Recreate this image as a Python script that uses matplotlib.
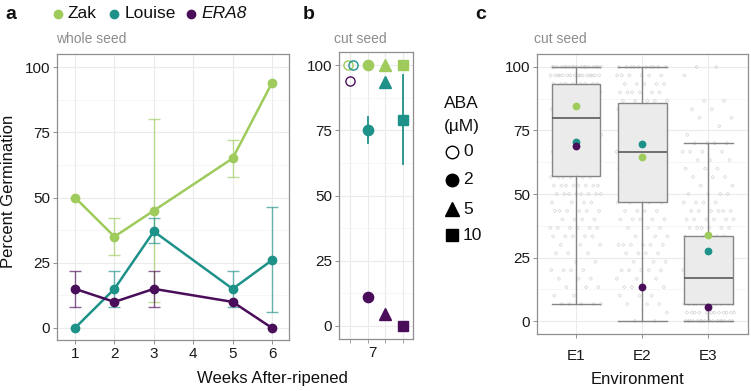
import matplotlib
matplotlib.use('Agg')
import matplotlib.pyplot as plt
import numpy as np

plt.rcParams['font.family'] = ['Liberation Sans', 'DejaVu Sans']

W, H = 751, 391

# ---------------- data ----------------
genotypes = ['Zak', 'Louise', 'ERA8']
colors = {'Zak': '#9ECB5C', 'Louise': '#1E9189', 'ERA8': '#4A0D5A'}

# panel a: whole seed
weeks = [1, 2, 3, 5, 6]
zak_mean = [50, 35, 45, 65, 94]
zak_lo = [50, 28, 10, 58, 94]
zak_hi = [50, 42, 80, 72, 94]
louise_mean = [0, 15, 37, 15, 26]
louise_lo = [0, 8, 32.5, 8, 6]
louise_hi = [0, 22, 42, 22, 46.5]
era8_mean = [15, 10, 15, 10, 0]
era8_lo = [8, 10, 8, 10, 0]
era8_hi = [22, 10, 22, 10, 0]

# panel b: cut seed, week 7, by ABA concentration
aba_levels = ['0', '2', '5', '10']
aba_markers = ['o', 'o', '^', 's']
b_zak = [100, 100, 100, 100]
b_louise = [100, 75, 93.5, 79]
b_louise_lo = [100, 70, 93.5, 62]
b_louise_hi = [100, 80, 93.5, 96]
b_era8 = [94, 11, 4.5, 0]

# panel c: environments
envs = ['E1', 'E2', 'E3']
box_whislo = [6.7, 0, 0]
box_q1 = [57, 46.8, 6.7]
box_med = [80, 66.5, 17]
box_q3 = [93.3, 85.8, 33.5]
box_whishi = [100, 100, 70]
c_zak = [84.6, 64.5, 34]
c_louise = [70.5, 69.8, 27.7]
c_era8 = [69, 13.4, 5.6]

# individual observations: counts per germination level (0, 3.3, ..., 100)
levels = [i * 10 / 3 for i in range(31)]
e1_counts = [0, 0, 5, 2, 3, 3, 4, 2, 3, 3, 5, 6, 4, 6, 4, 8, 8, 6, 4, 4, 4, 4, 4, 4, 4, 4, 4, 4, 8, 16, 18]
e2_counts = [2, 1, 3, 3, 4, 3, 5, 3, 4, 6, 3, 3, 5, 4, 4, 3, 3, 3, 3, 3, 3, 3, 3, 3, 3, 5, 5, 6, 5, 6, 10]
e3_counts = [16, 12, 12, 3, 3, 3, 3, 3, 3, 3, 4, 6, 6, 6, 4, 4, 2, 3, 3, 3, 4, 4, 1, 1, 2, 2, 2, 0, 0, 1, 2]

# ---------------- figure ----------------
fig = plt.figure(figsize=(W / 100, H / 100), dpi=100)


def add_ax(left, right, top, bottom):
    return fig.add_axes([left / W, 1 - bottom / H, (right - left) / W, (bottom - top) / H])


spine_col = '#8f8f8f'
grid_major = '#ebebeb'
grid_minor = '#f5f5f5'


def style(ax):
    for s in ax.spines.values():
        s.set_color(spine_col)
        s.set_linewidth(0.9)
    ax.tick_params(length=3, width=0.7, color=spine_col, labelsize=11, labelcolor='#1a1a1a', pad=2)
    ax.set_yticks([0, 25, 50, 75, 100])
    for y in [12.5, 37.5, 62.5, 87.5]:
        ax.axhline(y, color=grid_minor, lw=0.6, zorder=0)
    for y in [0, 25, 50, 75, 100]:
        ax.axhline(y, color=grid_major, lw=0.8, zorder=0)


# ----- panel a -----
axa = add_ax(57, 289, 54, 340)
style(axa)
axa.set_xlim(0.543, 6.43)
axa.set_ylim(-4.6, 105)
axa.set_xticks([1, 2, 3, 4, 5, 6])
for x in [1, 2, 3, 4, 5, 6]:
    axa.axvline(x, color=grid_major, lw=0.8, zorder=0)
series_a = [('Zak', zak_mean, zak_lo, zak_hi), ('Louise', louise_mean, louise_lo, louise_hi),
            ('ERA8', era8_mean, era8_lo, era8_hi)]
for name, m, lo, hi in series_a:
    m = np.array(m, float)
    yerr = [m - np.array(lo), np.array(hi) - m]
    has = (np.array(hi) - np.array(lo)) > 0
    wk = np.array(weeks)
    axa.errorbar(wk[has], m[has], yerr=[yerr[0][has], yerr[1][has]], fmt='none',
                 ecolor=colors[name], alpha=0.65, elinewidth=1.0, capsize=4.5, capthick=1.0, zorder=2)
for name, m, lo, hi in series_a:
    axa.plot(weeks, m, '-o', color=colors[name], lw=1.8, ms=6, zorder=3)

# ----- panel b -----
axb = add_ax(339, 413, 52, 339)
style(axb)
axb.set_xlim(-0.62, 3.56)
axb.set_ylim(-5, 105)
xb = np.arange(len(aba_levels))
for x in xb:
    axb.axvline(x, color=grid_major, lw=0.8, zorder=0)
axb.set_xticks([1.25])
axb.set_xticklabels(['7'])
axb.tick_params(axis='x', length=0, pad=5)
axb.set_xticks(xb, minor=True)
axb.tick_params(axis='x', which='minor', length=3, color=spine_col)
dodge0 = {'Zak': -0.12, 'Louise': 0.17, 'ERA8': 0.0}
msize = {'o': 7.4, '^': 8.8, 's': 7.6}
for i, mk in enumerate(aba_markers):
    if b_louise_hi[i] > b_louise_lo[i]:
        axb.plot([xb[i], xb[i]], [b_louise_lo[i], b_louise_hi[i]], color=colors['Louise'], lw=1.3, zorder=2)
    for name, vals in [('Zak', b_zak), ('Louise', b_louise), ('ERA8', b_era8)]:
        if i == 0:
            axb.plot(xb[i] + dodge0[name], vals[i], marker='o', ms=6.6, mfc='none', mec=colors[name],
                     mew=1.0, ls='none', zorder=3)
        else:
            axb.plot(xb[i], vals[i], marker=mk, ms=msize[mk], color=colors[name], ls='none', zorder=3)

# ----- panel c -----
axc = add_ax(537, 748, 54, 334)
style(axc)
axc.set_xlim(0.41, 3.6)
axc.set_ylim(-5.1, 105.1)
xc = np.arange(1, len(envs) + 1)
for x in xc:
    axc.axvline(x, color=grid_major, lw=0.8, zorder=0)
phi = 0.6180339887
for xi, counts in zip(xc, [e1_counts, e2_counts, e3_counts]):
    ys = np.repeat(levels, counts)
    k = np.arange(len(ys))
    off = ((k * phi + xi * 0.37) % 1 - 0.5) * 0.78
    axc.scatter(xi + off, ys, s=3, marker='D', facecolors='none', edgecolors='#cdcdcd',
                linewidths=0.4, zorder=1)
stats = []
for i, e in enumerate(envs):
    stats.append(dict(label=e, whislo=box_whislo[i], q1=box_q1[i], med=box_med[i],
                      q3=box_q3[i], whishi=box_whishi[i], fliers=[]))
axc.bxp(stats, positions=xc, widths=0.74, capwidths=0.74, patch_artist=True, showfliers=False,
        boxprops=dict(facecolor='#ebebeb', edgecolor='#858585', linewidth=1.0),
        medianprops=dict(color='#5a5a5a', linewidth=1.2),
        whiskerprops=dict(color='#858585', linewidth=1.0),
        capprops=dict(color='#858585', linewidth=1.0), zorder=2)
axc.set_xticks(xc)
axc.set_xticklabels(envs)
axc.tick_params(axis='x', pad=8)
for name, vals in [('Zak', c_zak), ('Louise', c_louise), ('ERA8', c_era8)]:
    axc.plot(xc, vals, 'o', color=colors[name], ms=4.6, ls='none', zorder=4)

# ----- annotations (pixel overlay) -----
ov = fig.add_axes([0, 0, 1, 1])
ov.set_axis_off()
ov.set_xlim(0, W)
ov.set_ylim(H, 0)

for x, t in [(5, 'a'), (303, 'b'), (475, 'c')]:
    ov.text(x, 19, t, fontsize=14, fontweight='bold', ha='left', va='baseline', color='#111')

leg_items = [(58, 68, 'Zak', 'normal'), (114, 125, 'Louise', 'normal'), (191, 201, 'ERA8', 'italic')]
for mx, tx, name, st in leg_items:
    ov.plot(mx, 14, 'o', color=colors[name], ms=6.0)
    ov.text(tx, 14, name, fontsize=12.5, style=st, ha='left', va='center', color='#111')

for x, t in [(56, 'whole seed'), (334, 'cut seed'), (534, 'cut seed')]:
    ov.text(x, 43, t, fontsize=10, color='#8c8c8c', ha='left', va='baseline')

ov.text(9, 191, 'Percent Germination', rotation=90, fontsize=12, ha='center', va='center', color='#111')
ov.text(272, 379, 'Weeks After-ripened', fontsize=12, ha='center', va='center', color='#111')
ov.text(638, 380, 'Environment', fontsize=12, ha='center', va='center', color='#111')

ov.text(444, 103, 'ABA', fontsize=12.5, ha='left', va='center', color='#111')
ov.text(444, 127, '(µM)', fontsize=12.5, ha='left', va='center', color='#111')
leg_y = [152, 180, 209, 235]
leg_ms = {'o': 9.0, '^': 10.0, 's': 9.0}
for i, (lvl, mk) in enumerate(zip(aba_levels, aba_markers)):
    if i == 0:
        ov.plot(452, leg_y[i], marker='o', ms=9.0, mfc='none', mec='black', mew=1.0)
    else:
        ov.plot(452, leg_y[i], marker=mk, ms=leg_ms[mk], color='black')
    ov.text(463, leg_y[i], lvl, fontsize=12.5, ha='left', va='center', color='#111')

fig.savefig('out.png', dpi=100)
